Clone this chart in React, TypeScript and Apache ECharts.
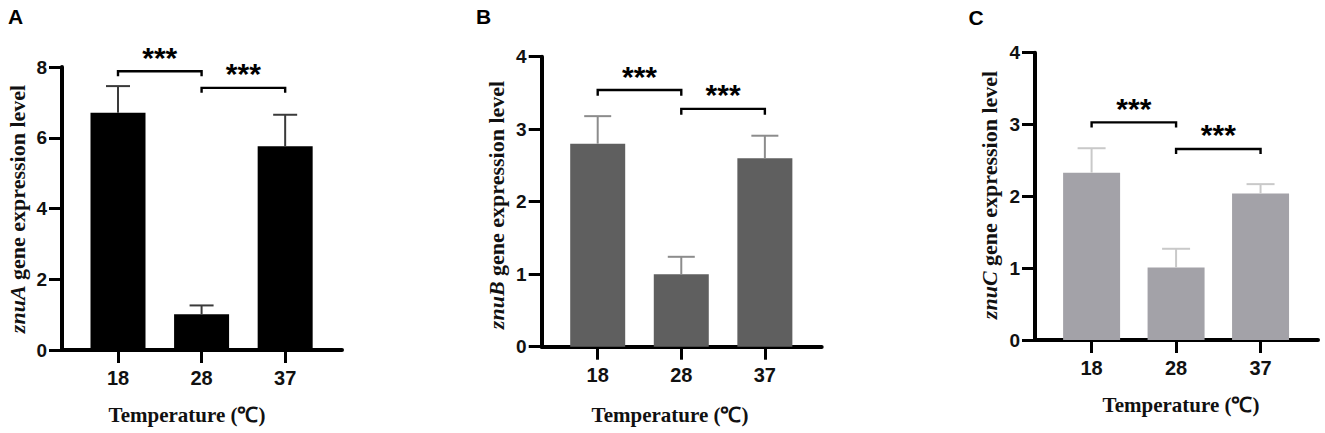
import React, { useEffect, useRef } from "react";
import * as echarts from "echarts";

// ---- data ----
const categories = ["18", "28", "37"];
const catPositions = [1, 2, 3];

const znuAMean = [6.71, 1.01, 5.76];
const znuAErr = [0.75, 0.25, 0.89];
const znuBMean = [2.8, 1.0, 2.6];
const znuBErr = [0.38, 0.24, 0.31];
const znuCMean = [2.33, 1.01, 2.04];
const znuCErr = [0.34, 0.26, 0.13];

const yTicksA = [0, 2, 4, 6, 8];
const yTicksBC = [0, 1, 2, 3, 4];

// brackets: [fromPos, toPos, lineY, tickEndY]
const bracketsA = [
  [1, 2, 7.88, 7.74],
  [2, 3, 7.41, 7.27],
];
const bracketsB = [
  [1, 2, 3.54, 3.46],
  [2, 3, 3.28, 3.2],
];
const bracketsC = [
  [1, 2, 3.03, 2.96],
  [2, 3, 2.66, 2.59],
];
const sigLabel = "***";

const geneNames = ["znuA", "znuB", "znuC"];
const panelLetters = ["A", "B", "C"];
const xTitle = "Temperature (℃)";

// ---- layout / style ----
const panels = [
  {
    grid: { left: 62, top: 67, width: 280, height: 283 },
    mean: znuAMean, err: znuAErr, ticks: yTicksA, brackets: bracketsA,
    barColor: "#000000", errColor: "#3a3a3a", barWidth: 55, cap: 12,
    xTitlePos: [187, 415], yTitlePos: [17, 209], letterPos: [15.5, 16],
  },
  {
    grid: { left: 541.7, top: 56.7, width: 280, height: 290 },
    mean: znuBMean, err: znuBErr, ticks: yTicksBC, brackets: bracketsB,
    barColor: "#5f5f5f", errColor: "#8c8c8c", barWidth: 55, cap: 13.5,
    xTitlePos: [670, 415], yTitlePos: [496, 205], letterPos: [483.5, 16],
  },
  {
    grid: { left: 1035, top: 52.7, width: 283, height: 287.3 },
    mean: znuCMean, err: znuCErr, ticks: yTicksBC, brackets: bracketsC,
    barColor: "#a3a2a8", errColor: "#c9c9c9", barWidth: 57, cap: 14,
    xTitlePos: [1181, 405], yTitlePos: [989, 195], letterPos: [976, 17],
  },
];

const SANS = "'Liberation Sans', Arial, sans-serif";
const SERIF = "'Liberation Serif', 'Times New Roman', serif";
const AXIS_W = 4;
const TICK_W = 3;

function buildOption() {
  const grid: any[] = [];
  const xAxis: any[] = [];
  const yAxis: any[] = [];
  const series: any[] = [];
  const graphic: any[] = [];

  panels.forEach((p, i) => {
    grid.push({ ...p.grid, containLabel: false, show: false });
    xAxis.push({
      type: "value",
      gridIndex: i,
      min: 0.33,
      max: 3.68,
      splitLine: { show: false },
      axisLine: { show: true, onZero: false, lineStyle: { color: "#000000", width: AXIS_W, opacity: 1 } },
      axisTick: { show: true, inside: false, length: 13, lineStyle: { color: "#000000", width: TICK_W }, customValues: catPositions },
      axisLabel: {
        customValues: catPositions,
        formatter: (v: number) => categories[Math.round(v) - 1] ?? "",
        color: "#111",
        fontFamily: SANS,
        fontWeight: "bold",
        fontSize: 20,
        margin: 18,
      },
    });
    const maxT = p.ticks[p.ticks.length - 1];
    yAxis.push({
      type: "value",
      gridIndex: i,
      min: 0,
      max: maxT,
      interval: p.ticks[1] - p.ticks[0],
      splitLine: { show: false },
      axisLine: { show: true, onZero: false, lineStyle: { color: "#000000", width: AXIS_W, opacity: 1 } },
      axisTick: { show: true, inside: false, length: 13, lineStyle: { color: "#000000", width: TICK_W } },
      axisLabel: {
        color: "#111",
        fontFamily: SANS,
        fontWeight: "bold",
        fontSize: 19,
        margin: 15,
      },
    });

    series.push({
      type: "bar",
      xAxisIndex: i,
      yAxisIndex: i,
      barWidth: p.barWidth,
      itemStyle: { color: p.barColor },
      data: catPositions.map((x, k) => [x, p.mean[k]]),
      z: 2,
    });

    const errColor = p.errColor;
    const cap = p.cap;
    series.push({
      type: "custom",
      xAxisIndex: i,
      yAxisIndex: i,
      z: 3,
      encode: { x: 0, y: 1 },
      data: catPositions.map((x, k) => [x, p.mean[k], p.err[k]]),
      renderItem: (params: any, api: any) => {
        const x = api.value(0);
        const m = api.value(1);
        const e = api.value(2);
        const a = api.coord([x, m]);
        const b = api.coord([x, m + e]);
        const style = { stroke: errColor, lineWidth: 2 };
        return {
          type: "group",
          children: [
            { type: "line", shape: { x1: a[0], y1: a[1], x2: b[0], y2: b[1] }, style },
            { type: "line", shape: { x1: b[0] - cap, y1: b[1], x2: b[0] + cap, y2: b[1] }, style },
          ],
        };
      },
    });

    series.push({
      type: "custom",
      xAxisIndex: i,
      yAxisIndex: i,
      z: 4,
      encode: { x: [0, 1], y: 2 },
      data: p.brackets,
      renderItem: (params: any, api: any) => {
        const x1 = api.value(0);
        const x2 = api.value(1);
        const y = api.value(2);
        const yEnd = api.value(3);
        const a = api.coord([x1, y]);
        const b = api.coord([x2, y]);
        const ae = api.coord([x1, yEnd]);
        const style = { stroke: "#000", lineWidth: 2.4, fill: "none" };
        const mid = (a[0] + b[0]) / 2;
        return {
          type: "group",
          children: [
            {
              type: "polyline",
              shape: { points: [[a[0], ae[1]], [a[0], a[1]], [b[0], b[1]], [b[0], ae[1]]] },
              style,
            },
            {
              type: "text",
              x: mid,
              y: a[1] - 14,
              style: {
                text: sigLabel,
                fill: "#000",
                font: `bold 30px ${SANS}`,
                align: "center",
                verticalAlign: "middle",
              },
            },
          ],
        };
      },
    });

    graphic.push({
      type: "text",
      x: p.xTitlePos[0],
      y: p.xTitlePos[1],
      style: {
        text: xTitle,
        fill: "#111",
        font: `bold 21px ${SERIF}`,
        align: "center",
        verticalAlign: "middle",
      },
    });
    graphic.push({
      type: "text",
      x: p.yTitlePos[0],
      y: p.yTitlePos[1],
      rotation: Math.PI / 2,
      style: {
        text: `{i|${geneNames[i]}} gene expression level`,
        fill: "#111",
        font: `bold 22px ${SERIF}`,
        align: "center",
        verticalAlign: "middle",
        rich: {
          i: { fontStyle: "italic", fontWeight: "bold", fontSize: 22, fontFamily: SERIF, fill: "#111" },
        },
      },
    });
    graphic.push({
      type: "text",
      x: p.letterPos[0],
      y: p.letterPos[1],
      style: {
        text: panelLetters[i],
        fill: "#000",
        font: `bold 21px ${SANS}`,
        align: "center",
        verticalAlign: "middle",
      },
    });
  });

  return {
    animation: false,
    backgroundColor: "#ffffff",
    grid,
    xAxis,
    yAxis,
    series,
    graphic,
  };
}

export default function App() {
  const ref = useRef<HTMLDivElement>(null);
  useEffect(() => {
    if (!ref.current) return;
    const chart = echarts.init(ref.current, undefined, { renderer: "svg" });
    chart.setOption(buildOption() as any);
    return () => chart.dispose();
  }, []);
  return (
    <div
      ref={ref}
      style={{ position: "fixed", left: 0, top: 0, width: 1325, height: 433, background: "#fff" }}
    />
  );
}
